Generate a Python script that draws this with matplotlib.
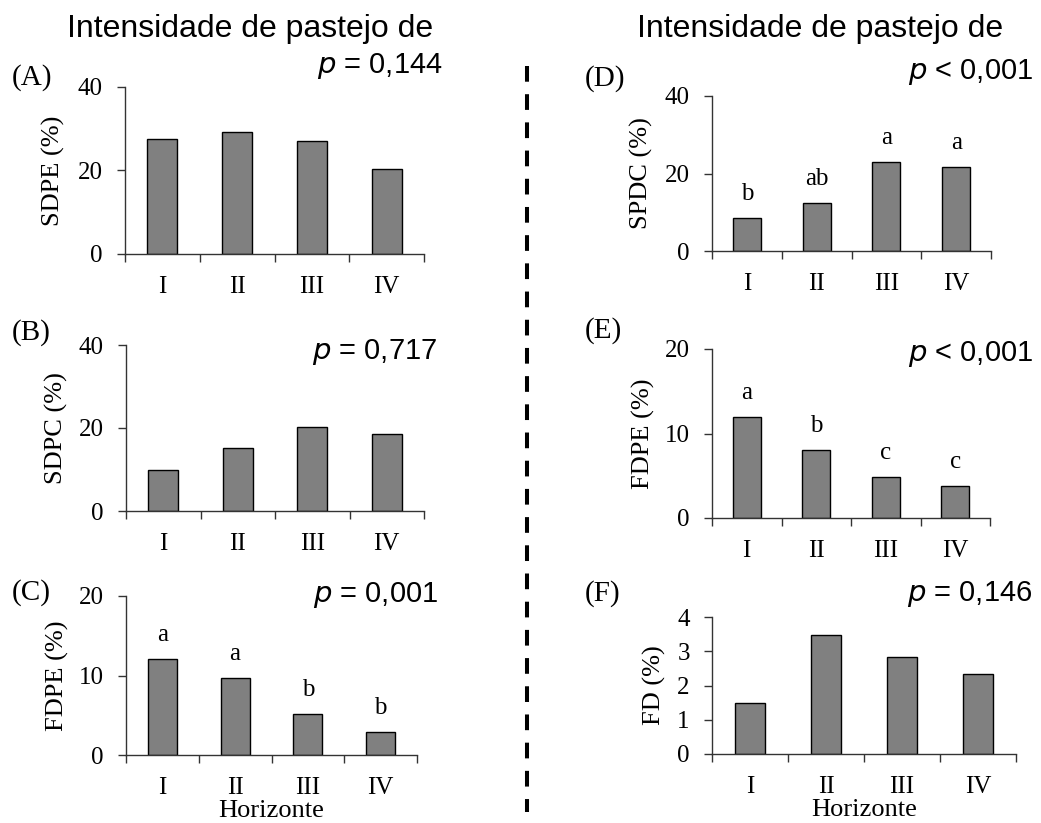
import matplotlib
matplotlib.use("Agg")
import matplotlib.pyplot as plt
from matplotlib.lines import Line2D

# Data
horizons = ["I", "II", "III", "IV"]

sdpe_a = [27.5, 29.3, 27.1, 20.4]
sdpc_b = [9.9, 15.2, 20.3, 18.5]
fdpe_c = [12.05, 9.7, 5.1, 2.85]
spdc_d = [8.4, 12.5, 23.0, 21.7]
fdpe_e = [11.95, 8.0, 4.8, 3.75]
fd_f = [1.49, 3.48, 2.83, 2.35]

letters_c = ["a", "a", "b", "b"]
letters_d = ["b", "ab", "a", "a"]
letters_e = ["a", "b", "c", "c"]

SERIF = "Liberation Serif"
SANS = "Liberation Sans"
BAR_COLOR = "#808080"

W, H = 1041, 823
fig = plt.figure(figsize=(W / 100, H / 100), dpi=100)


def px_axes(x0, x1, y0, y1):
    # convert pixel box to figure fraction
    return fig.add_axes([x0 / W, 1 - y1 / H, (x1 - x0) / W, (y1 - y0) / H])


def panel(box, values, ymax, step, ylabel, label_x, letters=None, xlabel=False):
    ax = px_axes(*box)
    x = list(range(len(horizons)))
    ax.bar(x, values, width=0.4, color=BAR_COLOR, edgecolor="black", linewidth=1.0, zorder=2)
    ax.set_xlim(-0.5, len(horizons) - 0.5)
    ax.set_ylim(0, ymax)
    ax.set_yticks([v for v in range(0, ymax + 1, step)])
    ax.set_yticklabels([str(v) for v in range(0, ymax + 1, step)], fontfamily=SERIF, fontsize=18)
    ax.tick_params(axis="y", length=6, width=1, pad=10, colors="#333333", labelcolor="black")

    # category boundary ticks, labels in the middle
    ax.set_xticks([i - 0.5 for i in range(len(horizons) + 1)])
    ax.set_xticklabels([])
    ax.set_xticks(x, minor=True)
    ax.set_xticklabels(horizons, minor=True, fontfamily=SERIF, fontsize=18)
    ax.tick_params(axis="x", which="major", length=6, width=1, colors="#333333")
    ax.tick_params(axis="x", which="minor", length=0, pad=15.5)

    for s in ["top", "right"]:
        ax.spines[s].set_visible(False)
    for s in ["left", "bottom"]:
        ax.spines[s].set_color("#333333")
        ax.spines[s].set_linewidth(1.0)

    ax.set_ylabel(ylabel, fontfamily=SERIF, fontsize=19)
    ax.yaxis.set_label_coords(label_x, 0.5)

    if letters:
        for xi, v, t in zip(x, values, letters):
            ax.annotate(t, (xi, v), xytext=(0, 13), textcoords="offset points",
                        ha="center", va="baseline", fontfamily=SERIF, fontsize=18)
    if xlabel:
        ax.set_xlabel("Horizonte", fontfamily=SERIF, fontsize=19, labelpad=1)
    return ax


panel((125, 424, 87, 254), sdpe_a, 40, 20, "SDPE (%)", -0.2)
panel((126, 424, 345, 511), sdpc_b, 40, 20, "SDPC (%)", -0.195)
panel((126, 417, 596, 755), fdpe_c, 20, 10, "FDPE (%)", -0.197, letters_c, xlabel=True)
panel((712, 991, 96, 251), spdc_d, 40, 20, "SPDC (%)", -0.21, letters_d)
panel((712, 990, 349, 518), fdpe_e, 20, 10, "FDPE (%)", -0.205, letters_e)
panel((712, 1016, 617, 754), fd_f, 4, 1, "FD (%)", -0.15, xlabel=True)


def ftext(x, y, s, **kw):
    fig.text(x / W, 1 - y / H, s, va="baseline", **kw)


# column titles
ftext(250, 37, "Intensidade de pastejo de", ha="center", fontfamily=SANS, fontsize=23)
ftext(820, 37, "Intensidade de pastejo de", ha="center", fontfamily=SANS, fontsize=23)

# panel letters
for lab, x, y in [("(A)", 12, 85), ("(B)", 12, 340), ("(C)", 12, 600),
                  ("(D)", 585, 86), ("(E)", 585, 338), ("(F)", 585, 601)]:
    ftext(x, y, lab, ha="left", fontfamily=SERIF, fontsize=21)

# p-values
for s, x, y in [(r"$\it{p}$ = 0,144", 443, 73), (r"$\it{p}$ = 0,717", 437, 359),
                (r"$\it{p}$ = 0,001", 438, 602), (r"$\it{p}$ < 0,001", 1033, 79),
                (r"$\it{p}$ < 0,001", 1033, 361), (r"$\it{p}$ = 0,146", 1032, 601)]:
    ftext(x, y, s, ha="right", fontfamily=SANS, fontsize=21)

# dashed separator
sep = Line2D([527 / W, 527 / W], [1 - 66 / H, 1 - 812 / H], transform=fig.transFigure,
             color="black", linewidth=2.9, linestyle=(0, (3.9, 3.1)))
fig.add_artist(sep)

fig.savefig("out.png", dpi=100)
